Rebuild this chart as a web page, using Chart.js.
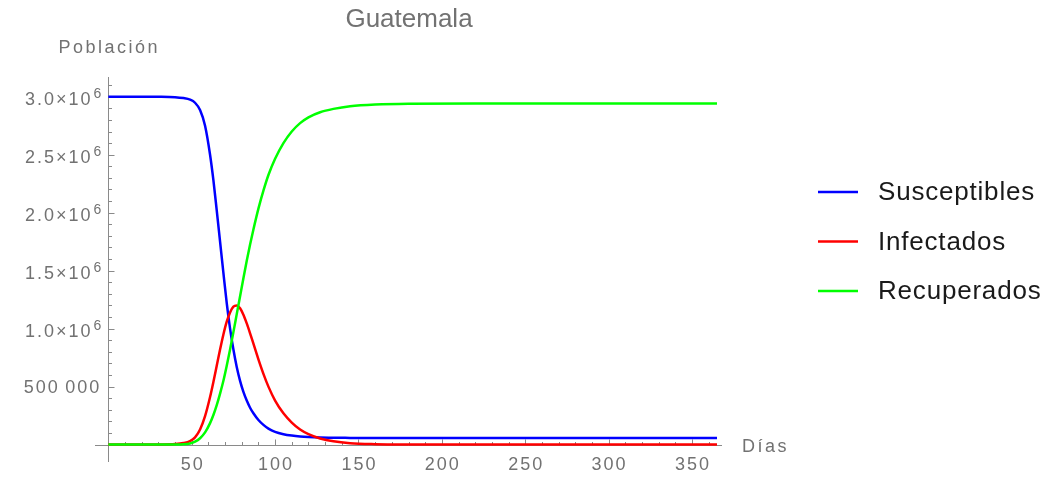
<!DOCTYPE html>
<html lang="es">
<head>
<meta charset="UTF-8">
<title>Guatemala</title>
<script src="https://cdn.jsdelivr.net/npm/chart.js"></script>
<style>
    html, body { margin: 0; padding: 0; background: #fff; }
    #wrap { width: 1045px; height: 477px; }
</style>
</head>
<body>
<div id="wrap"><canvas id="sir_chart" width="1045" height="477"></canvas></div>

<script>
    // values
    const dias = [0, 10, 20, 30, 40, 45, 49, 52, 55, 58, 61, 63, 65, 67, 69, 71, 73, 75, 77, 79,
                  81, 83, 85, 87, 90, 93, 96, 100, 105, 110, 115, 120, 127, 135, 145, 160, 180, 220, 280, 365];

    const susceptibles = [3000000, 3000000, 3000000, 2999500, 2996000, 2988000, 2975000, 2948000, 2885000, 2750000,
                          2500000, 2280000, 2020000, 1750000, 1480000, 1220000, 1000000, 820000, 670000, 550000,
                          455000, 380000, 318000, 270000, 212000, 170000, 138000, 110000, 90000, 78000,
                          70000, 65000, 61000, 59000, 58000, 57000, 57000, 57000, 57000, 57000];

    const infectados = [0, 0, 0, 1000, 5000, 13000, 30000, 62000, 130000, 245000,
                        410000, 540000, 680000, 820000, 950000, 1060000, 1140000, 1190000, 1200000, 1175000,
                        1120000, 1045000, 960000, 870000, 735000, 610000, 500000, 380000, 270000, 190000,
                        130000, 90000, 53000, 28000, 12000, 4000, 1000, 0, 0, 0];

    const recuperados = [0, 0, 0, 0, 1000, 3000, 10000, 25000, 55000, 105000,
                         185000, 255000, 340000, 440000, 550000, 680000, 820000, 970000, 1125000, 1280000,
                         1435000, 1585000, 1725000, 1855000, 2035000, 2190000, 2325000, 2465000, 2600000, 2700000,
                         2772000, 2822000, 2866000, 2895000, 2918000, 2933000, 2940000, 2942000, 2942000, 2942000];

    const series_names = ["Susceptibles", "Infectados", "Recuperados"];
    const series_colors = ["#0000ff", "#ff0000", "#00ff00"];

    const x_ticks = [50, 100, 150, 200, 250, 300, 350];
    const y_ticks = [500000, 1000000, 1500000, 2000000, 2500000, 3000000];
    const y_tick_labels = ["500\u2009000", "1.0\u00d710^6", "1.5\u00d710^6", "2.0\u00d710^6", "2.5\u00d710^6", "3.0\u00d710^6"];

    const LABEL_FONT = '"Liberation Sans", Arial, sans-serif';
    const AXIS_GREY = "#8a8a8a";
    const TEXT_GREY = "#727272";

    function points(values) {
        return dias.map(function (d, i) { return { x: d, y: values[i] }; });
    }

    function spaced(ctx, px) {
        if ("letterSpacing" in ctx) ctx.letterSpacing = px + "px";
    }

    // Mathematica style axes: crossing at the origin, ticks pointing inward
    const axesPlugin = {
        id: "axes",
        beforeDatasetsDraw: function (chart) {
            const ctx = chart.ctx;
            const xs = chart.scales.x, ys = chart.scales.y;
            const area = chart.chartArea;
            const x0 = Math.round(xs.getPixelForValue(0)) + 0.5;
            const y0 = Math.round(ys.getPixelForValue(0)) + 0.5;
            ctx.save();
            ctx.strokeStyle = AXIS_GREY;
            ctx.lineWidth = 1;
            ctx.beginPath();
            ctx.moveTo(area.left, y0); ctx.lineTo(area.right, y0);
            ctx.moveTo(x0, area.top); ctx.lineTo(x0, area.bottom);
            for (let d = 10; d <= 360; d += 10) {
                const px = Math.round(xs.getPixelForValue(d)) + 0.5;
                const len = (d % 50 === 0) ? 6 : 3.5;
                ctx.moveTo(px, y0); ctx.lineTo(px, y0 - len);
            }
            for (let v = 100000; v <= 3100000; v += 100000) {
                const py = Math.round(ys.getPixelForValue(v)) + 0.5;
                const len = (v % 500000 === 0) ? 6 : 3.5;
                ctx.moveTo(x0, py); ctx.lineTo(x0 + len, py);
            }
            ctx.stroke();
            ctx.restore();
        },
        afterDraw: function (chart) {
            const ctx = chart.ctx;
            const xs = chart.scales.x, ys = chart.scales.y;
            const x0 = xs.getPixelForValue(0);
            const y0 = ys.getPixelForValue(0);
            ctx.save();
            ctx.fillStyle = TEXT_GREY;
            ctx.textBaseline = "middle";

            // x tick labels
            ctx.font = "18px " + LABEL_FONT;
            spaced(ctx, 2);
            ctx.textAlign = "center";
            x_ticks.forEach(function (t) {
                ctx.fillText(String(t), xs.getPixelForValue(t) + 1, y0 + 20);
            });

            // y tick labels, with a raised exponent
            ctx.textAlign = "right";
            y_ticks.forEach(function (t, i) {
                const py = ys.getPixelForValue(t);
                const parts = y_tick_labels[i].split("^");
                let right = x0 - 7;
                let shift = 1.5;
                if (parts.length > 1) {
                    ctx.font = "14px " + LABEL_FONT;
                    spaced(ctx, 0);
                    ctx.fillText(parts[1], right, py - 3);
                    right -= ctx.measureText(parts[1]).width + 1;
                    shift = 3.5;
                }
                ctx.font = "18px " + LABEL_FONT;
                spaced(ctx, 2);
                ctx.fillText(parts[0], right, py + shift);
            });

            // axis names
            ctx.textAlign = "center";
            spaced(ctx, 2.5);
            ctx.fillText("Población", x0 + 1, 48);
            ctx.textAlign = "left";
            ctx.fillText("Días", 742, y0 + 2);

            // title
            spaced(ctx, 0);
            ctx.font = "26px " + LABEL_FONT;
            ctx.textAlign = "center";
            ctx.fillText("Guatemala", 409, 20);

            // legend on the right
            ctx.font = "26px " + LABEL_FONT;
            spaced(ctx, 0.8);
            ctx.textAlign = "left";
            chart.data.datasets.forEach(function (ds, i) {
                const ly = 192 + i * 49.5;
                ctx.strokeStyle = ds.borderColor;
                ctx.lineWidth = 2.5;
                ctx.beginPath();
                ctx.moveTo(818, ly); ctx.lineTo(858, ly);
                ctx.stroke();
                ctx.fillStyle = "#1a1a1a";
                ctx.fillText(ds.label, 878, ly + 1);
            });
            ctx.restore();
        }
    };

    const ctx = document.getElementById("sir_chart");
    const sirChart = new Chart(ctx, {
        type: "line",
        data: {
            datasets: [
                { label: series_names[0], data: points(susceptibles), borderColor: series_colors[0], order: 3 },
                { label: series_names[1], data: points(infectados), borderColor: series_colors[1], order: 2 },
                { label: series_names[2], data: points(recuperados), borderColor: series_colors[2], order: 1 },
            ]
        },
        options: {
            responsive: false,
            animation: false,
            devicePixelRatio: 1,
            layout: { padding: { left: 95, right: 323, top: 77, bottom: 15 } },
            elements: {
                line: { borderWidth: 2.5, cubicInterpolationMode: "monotone", fill: false },
                point: { radius: 0 }
            },
            scales: {
                x: { type: "linear", min: -8, max: 368, display: false },
                y: { type: "linear", min: -150000, max: 3170000, display: false }
            },
            plugins: {
                legend: { display: false },
                title: { display: false },
                tooltip: { enabled: false }
            }
        },
        plugins: [axesPlugin]
    });
</script>
</body>
</html>
